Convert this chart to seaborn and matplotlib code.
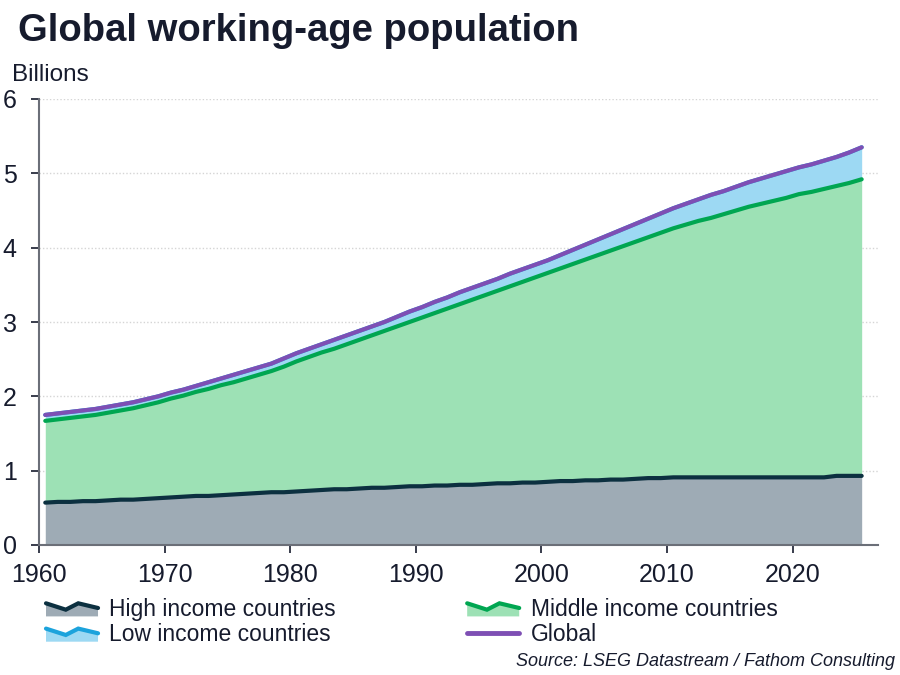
import numpy as np
import pandas as pd
import matplotlib
matplotlib.use("Agg")
import matplotlib.pyplot as plt
import seaborn as sns
from matplotlib.legend_handler import HandlerBase
from matplotlib.patches import Polygon, Patch
from matplotlib.lines import Line2D

# ---------------- data (billions) ----------------
years = list(range(1960, 2026))

# High income countries
high_income = [0.57, 0.58, 0.58, 0.59, 0.59, 0.60, 0.61, 0.61, 0.62, 0.63,
               0.64, 0.65, 0.66, 0.66, 0.67, 0.68, 0.69, 0.70, 0.71, 0.71,
               0.72, 0.73, 0.74, 0.75, 0.75, 0.76, 0.77, 0.77, 0.78, 0.79,
               0.79, 0.80, 0.80, 0.81, 0.81, 0.82, 0.83, 0.83, 0.84, 0.84,
               0.85, 0.86, 0.86, 0.87, 0.87, 0.88, 0.88, 0.89, 0.90, 0.90,
               0.91, 0.91, 0.91, 0.91, 0.91, 0.91, 0.91, 0.91, 0.91, 0.91,
               0.91, 0.91, 0.91, 0.93, 0.93, 0.93]

# High + middle income countries (stack level)
high_plus_middle = [1.67, 1.69, 1.71, 1.73, 1.75, 1.78, 1.81, 1.84, 1.88, 1.92,
                    1.97, 2.01, 2.06, 2.10, 2.15, 2.19, 2.24, 2.29, 2.34, 2.40,
                    2.47, 2.53, 2.59, 2.64, 2.70, 2.76, 2.82, 2.88, 2.94, 3.00,
                    3.06, 3.12, 3.18, 3.24, 3.30, 3.36, 3.42, 3.48, 3.54, 3.60,
                    3.66, 3.72, 3.78, 3.84, 3.90, 3.96, 4.02, 4.08, 4.14, 4.20,
                    4.26, 4.31, 4.36, 4.40, 4.45, 4.50, 4.55, 4.59, 4.63, 4.67,
                    4.72, 4.75, 4.79, 4.83, 4.87, 4.92]

# Global total
global_total = [1.75, 1.77, 1.79, 1.81, 1.83, 1.86, 1.89, 1.92, 1.96, 2.00,
                2.05, 2.09, 2.14, 2.19, 2.24, 2.29, 2.34, 2.39, 2.44, 2.51,
                2.58, 2.64, 2.70, 2.76, 2.82, 2.88, 2.94, 3.00, 3.07, 3.14,
                3.20, 3.27, 3.33, 3.40, 3.46, 3.52, 3.58, 3.65, 3.71, 3.77,
                3.83, 3.90, 3.97, 4.04, 4.11, 4.18, 4.25, 4.32, 4.39, 4.46,
                4.53, 4.59, 4.65, 4.71, 4.76, 4.82, 4.88, 4.93, 4.98, 5.03,
                5.08, 5.12, 5.17, 5.22, 5.28, 5.35]

x_ticks = [1960, 1970, 1980, 1990, 2000, 2010, 2020]
y_ticks = [0, 1, 2, 3, 4, 5, 6]

labels = ["High income countries", "Middle income countries",
          "Low income countries", "Global"]

# colours
C_HIGH_FILL, C_HIGH_LINE = "#9eabb5", "#0c3040"
C_MID_FILL, C_MID_LINE = "#9de1b5", "#00a651"
C_LOW_FILL, C_LOW_LINE = "#9dd9f3", "#1ca3dc"
C_GLOBAL = "#7e4fb4"
C_TEXT = "#161b2d"

df = pd.DataFrame({"year": years, "high": high_income,
                   "mid": high_plus_middle, "glob": global_total})
df["x"] = df["year"] + 0.5  # annual values plotted mid-year

sns.set_theme(style="white")
plt.rcParams["font.family"] = ["Liberation Sans", "DejaVu Sans"]
plt.rcParams["text.color"] = C_TEXT

fig = plt.figure(figsize=(9, 6.75), dpi=100)
ax = fig.add_axes([39 / 900, 1 - 545 / 675, (878 - 39) / 900, (545 - 99) / 675])

ax.fill_between(df["x"], 0, df["high"], color=C_HIGH_FILL, lw=0)
ax.fill_between(df["x"], df["high"], df["mid"], color=C_MID_FILL, lw=0)
ax.fill_between(df["x"], df["mid"], df["glob"], color=C_LOW_FILL, lw=0)

lw = 3.0
sns.lineplot(data=df, x="x", y="high", color=C_HIGH_LINE, lw=lw, ax=ax)
sns.lineplot(data=df, x="x", y="mid", color=C_MID_LINE, lw=lw, ax=ax)
sns.lineplot(data=df, x="x", y="glob", color=C_LOW_LINE, lw=lw, ax=ax)
sns.lineplot(data=df, x="x", y="glob", color=C_GLOBAL, lw=lw, ax=ax)

ax.set_xlim(1960, 2026.8)
ax.set_ylim(0, 6)
ax.set_xticks(x_ticks)
ax.set_yticks(y_ticks)
ax.set_xlabel("")
ax.set_ylabel("")
ax.tick_params(axis="both", labelsize=18, colors=C_TEXT, length=6,
               width=1.2, direction="out", bottom=True, left=True)
ax.tick_params(axis="x", pad=7)
ax.tick_params(axis="y", pad=10)
for t in ax.get_xticklines() + ax.get_yticklines():
    t.set_color("#5a5f6a")
for s in ["top", "right"]:
    ax.spines[s].set_visible(False)
for s in ["left", "bottom"]:
    ax.spines[s].set_color("#6b6f78")
    ax.spines[s].set_linewidth(1.5)
ax.set_axisbelow(True)
ax.yaxis.grid(True, color="#d5d5d5", linestyle=(0, (1, 1.5)), lw=1.0)
ax.xaxis.grid(False)
ax.patch.set_alpha(0)

# ------------- legend with mini-area handles -------------
class AreaHandler(HandlerBase):
    def __init__(self, fill, line):
        super().__init__()
        self.fill, self.line = fill, line

    def create_artists(self, legend, orig_handle, xdescent, ydescent,
                       width, height, fontsize, trans):
        xs = np.array([0.0, 0.38, 0.62, 1.0]) * width - xdescent
        ys = np.array([0.78, 0.40, 0.78, 0.50]) * height - ydescent
        pts = list(zip(xs, ys)) + [(xs[-1], -ydescent), (xs[0], -ydescent)]
        poly = Polygon(pts, closed=True, fc=self.fill, ec="none", transform=trans)
        ln = Line2D(xs, ys, color=self.line, lw=3, transform=trans,
                    solid_joinstyle="miter")
        return [poly, ln]


h_high = Patch(label=labels[0])
h_mid = Patch(label=labels[1])
h_low = Patch(label=labels[2])
h_glob = Line2D([], [], color=C_GLOBAL, lw=3.5, label=labels[3])
hmap = {h_high: AreaHandler(C_HIGH_FILL, C_HIGH_LINE),
        h_mid: AreaHandler(C_MID_FILL, C_MID_LINE),
        h_low: AreaHandler(C_LOW_FILL, C_LOW_LINE)}

fig.legend(handles=[h_high, h_low, h_mid, h_glob],
           labels=[labels[0], labels[2], labels[1], labels[3]],
           handler_map=hmap, loc="upper left",
           bbox_to_anchor=(46 / 900, 1 - 598 / 675), ncol=2, frameon=False,
           fontsize=16.5, borderaxespad=0, borderpad=0, handlelength=2.27,
           handleheight=0.75, handletextpad=0.5, columnspacing=5.72,
           labelspacing=0.1)

fig.text(18 / 900, 1 - 31 / 675, "Global working-age population",
         fontsize=27.5, fontweight="bold", va="center", ha="left", color=C_TEXT)
fig.text(12 / 900, 1 - 75 / 675, "Billions", fontsize=17.5, va="center",
         ha="left", color=C_TEXT)
fig.text(895 / 900, 1 - 662 / 675, "Source: LSEG Datastream / Fathom Consulting",
         fontsize=13, style="italic", va="center", ha="right", color=C_TEXT)

fig.savefig("out.png", dpi=100, facecolor="white")
